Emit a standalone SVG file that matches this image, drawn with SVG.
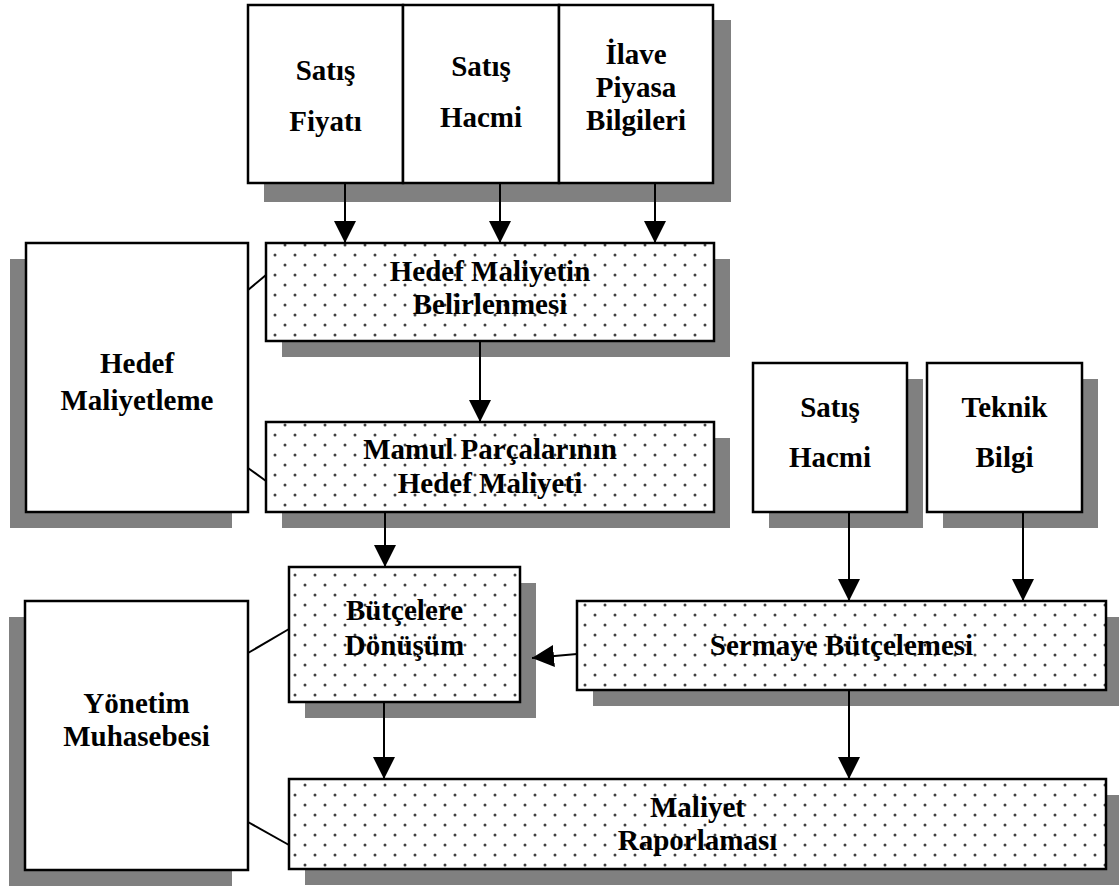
<svg xmlns="http://www.w3.org/2000/svg" width="1119" height="888" viewBox="0 0 1119 888">
<style>
.sh{fill:#808080}
.bx{fill:#fff;stroke:#000;stroke-width:2.5}
.dt{fill:url(#dots);stroke:#000;stroke-width:2.5}
text{font-family:"Liberation Serif","Times New Roman",serif;font-weight:bold;font-size:29px;text-anchor:middle;fill:#000}
.ln{stroke:#000;stroke-width:2;fill:none}
.ar{stroke:#000;stroke-width:2;fill:none;marker-end:url(#ah)}
</style>
<defs>
<pattern id="dots" width="20" height="20" patternUnits="userSpaceOnUse">
<rect width="20" height="20" fill="#fff"/>
<circle cx="5" cy="5" r="1.5" fill="#404040"/>
<circle cx="15" cy="15" r="1.5" fill="#404040"/>
</pattern>
<marker id="ah" markerUnits="userSpaceOnUse" markerWidth="22" markerHeight="22" refX="22" refY="11" orient="auto">
<path d="M0,0 L22,11 L0,22 z" fill="#000"/>
</marker>
</defs>
<rect width="1119" height="888" fill="#fff"/>

<g id="top-inputs">
<rect class="sh" x="264" y="20" width="467" height="182"/>
<g id="satis-fiyati">
<rect class="bx" x="248" y="5" width="155" height="178"/>
<text x="325.5" y="80">Satış</text>
<text x="325.5" y="131">Fiyatı</text>
</g>
<g id="satis-hacmi-1">
<rect class="bx" x="403" y="5" width="156" height="178"/>
<text x="481" y="76">Satış</text>
<text x="481" y="127">Hacmi</text>
</g>
<g id="ilave-piyasa">
<rect class="bx" x="559" y="5" width="154" height="178"/>
<text x="636" y="64">İlave</text>
<text x="636" y="97">Piyasa</text>
<text x="636" y="130">Bilgileri</text>
</g>
</g>

<g id="hedef-maliyetleme">
<rect class="sh" x="10" y="259" width="222" height="269"/>
<rect class="bx" x="26" y="243" width="222" height="269"/>
<text x="137" y="373">Hedef</text>
<text x="137" y="410">Maliyetleme</text>
</g>

<g id="hedef-maliyetin">
<rect class="sh" x="282" y="259" width="448" height="98"/>
<rect class="dt" x="266" y="243" width="448" height="98"/>
<text x="490" y="281">Hedef Maliyetin</text>
<text x="490" y="314">Belirlenmesi</text>
</g>

<g id="mamul-parcalari">
<rect class="sh" x="282" y="438" width="448" height="90"/>
<rect class="dt" x="266" y="422" width="448" height="90"/>
<text x="490" y="459">Mamul Parçalarının</text>
<text x="490" y="493">Hedef Maliyeti</text>
</g>

<g id="satis-hacmi-2">
<rect class="sh" x="769" y="379" width="154" height="149"/>
<rect class="bx" x="753" y="363" width="154" height="149"/>
<text x="830" y="417">Satış</text>
<text x="830" y="467">Hacmi</text>
</g>

<g id="teknik-bilgi">
<rect class="sh" x="943" y="379" width="155" height="149"/>
<rect class="bx" x="927" y="363" width="155" height="149"/>
<text x="1004.5" y="417">Teknik</text>
<text x="1004.5" y="467">Bilgi</text>
</g>

<g id="butcelere-donusum">
<rect class="sh" x="305" y="583" width="231" height="135"/>
<rect class="dt" x="289" y="567" width="231" height="135"/>
<text x="404.5" y="620">Bütçelere</text>
<text x="404.5" y="655">Dönüşüm</text>
</g>

<g id="yonetim-muhasebesi">
<rect class="sh" x="9" y="617" width="223" height="269"/>
<rect class="bx" x="25" y="601" width="223" height="269"/>
<text x="136.5" y="713">Yönetim</text>
<text x="136.5" y="746">Muhasebesi</text>
</g>

<g id="sermaye-butcelemesi">
<rect class="sh" x="593" y="617" width="529" height="89"/>
<rect class="dt" x="577" y="601" width="529" height="89"/>
<text x="841.5" y="655">Sermaye Bütçelemesi</text>
</g>

<g id="maliyet-raporlamasi">
<rect class="sh" x="305" y="795" width="817" height="90"/>
<rect class="dt" x="289" y="779" width="817" height="90"/>
<text x="697.5" y="817">Maliyet</text>
<text x="697.5" y="850">Raporlaması</text>
</g>

<g id="connectors">
<line class="ln" x1="248" y1="290" x2="266" y2="275"/>
<line class="ln" x1="248" y1="468" x2="266" y2="481"/>
<line class="ln" x1="248" y1="653" x2="289" y2="629"/>
<line class="ln" x1="248" y1="822" x2="289" y2="845"/>
<line class="ar" x1="345" y1="183" x2="345" y2="243"/>
<line class="ar" x1="500" y1="183" x2="500" y2="243"/>
<line class="ar" x1="655" y1="183" x2="655" y2="243"/>
<line class="ar" x1="480" y1="341" x2="480" y2="422"/>
<line class="ar" x1="385" y1="512" x2="385" y2="567"/>
<line class="ar" x1="849" y1="512" x2="849" y2="601"/>
<line class="ar" x1="1023" y1="512" x2="1023" y2="601"/>
<line class="ar" x1="577" y1="654" x2="532" y2="658"/>
<line class="ar" x1="384" y1="702" x2="384" y2="779"/>
<line class="ar" x1="849" y1="690" x2="849" y2="779"/>
</g>
</svg>
